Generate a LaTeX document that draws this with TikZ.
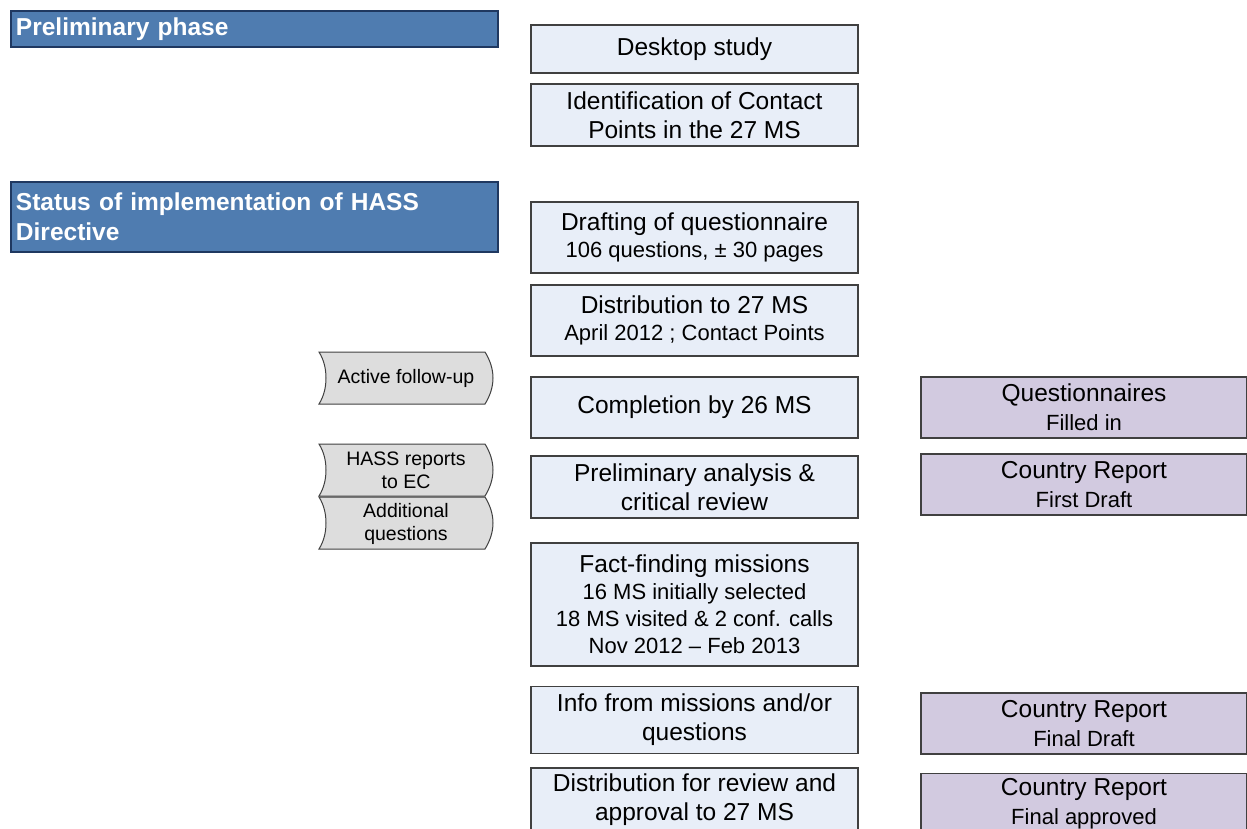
\documentclass[tikz,border=0pt]{standalone}
\usepackage{fontspec}
\setmainfont{Liberation Sans}
\definecolor{hdrfill}{RGB}{79,124,176}
\definecolor{hdrline}{RGB}{31,56,96}
\definecolor{bluefill}{RGB}{232,238,248}
\definecolor{purplefill}{RGB}{210,202,224}
\definecolor{tagfill}{RGB}{221,221,221}
\definecolor{boxline}{RGB}{64,64,64}
\newcommand\mainf{\fontsize{24.5}{29}\selectfont}
\newcommand\smf{\fontsize{22}{27}\selectfont}
\newcommand\tagf{\fontsize{19.5}{23}\selectfont}
\tikzset{
  hdr/.style={draw=hdrline, line width=2pt, fill=hdrfill, text=white,
    font=\fontsize{24.5}{30}\selectfont\bfseries, align=left, anchor=north west,
    text width=477pt, inner xsep=5pt, inner ysep=0pt, minimum width=487pt},
  stepbox/.style={draw=boxline, line width=1.1pt, fill=bluefill, font=\mainf,
    align=center, minimum width=327pt, inner sep=0pt},
  resultbox/.style={draw=boxline, line width=1.1pt, fill=purplefill, font=\mainf,
    align=center, minimum width=326pt, inner sep=0pt},
  tagline/.style={draw=boxline, line width=1pt, fill=tagfill},
  tagtext/.style={font=\tagf, align=center, inner sep=0pt},
}
\newcommand\tagshape[3]{%
  \begin{scope}[shift={(319,#2)}]
    \draw[tagline] (0,0) -- (166,0) .. controls (171,8) and (174,17) .. (174,26)
      .. controls (174,35) and (171,44) .. (166,52) -- (0,52)
      .. controls (5,44) and (7,35) .. (7,26) .. controls (7,17) and (5,8) .. (0,0) -- cycle;
    \node[tagtext] (#1) at (87,26.5) {#3};
  \end{scope}}
\begin{document}
\begin{tikzpicture}[x=1pt,y=-1pt]
\useasboundingbox (0,0) rectangle (1247,829);
\clip (0,0) rectangle (1247,829);

% headers
\node[hdr, minimum height=36pt] (h1) at (10,10) {Preliminary phase};
\node[hdr, minimum height=70pt] (h2) at (10,181) {Status of implementation of HASS\\Directive};

% process steps
\node[stepbox, minimum height=48pt] (desk) at (694.5,49) {Desktop study};
\node[stepbox, minimum height=62pt] (ident) at (694.5,115) {Identification of Contact\\Points in the 27 MS};
\node[stepbox, minimum height=71pt, font=\smf] (draft) at (694.5,237.5) {{\mainf Drafting of questionnaire}\\106 questions, ± 30 pages};
\node[stepbox, minimum height=71pt, font=\smf] (dist) at (694.5,320.5) {{\mainf Distribution to 27 MS}\\April 2012 ; Contact Points};
\node[stepbox, minimum height=61pt] (compl) at (694.5,407.5) {Completion by 26 MS};
\node[stepbox, minimum height=62pt] (prelim) at (694.5,487) {Preliminary analysis \&\\critical review};
\node[stepbox, minimum height=123pt, font=\smf] (fact) at (694.5,604.5) {{\mainf Fact-finding missions}\\16 MS initially selected\\18 MS visited \& 2 conf. calls\\Nov 2012 -- Feb 2013};
\node[stepbox, minimum height=67pt] (info) at (694.5,720) {Info from missions and/or\\questions};
\node[stepbox, minimum height=64pt] (review) at (694.5,800) {Distribution for review and\\approval to 27 MS};

% results
\node[resultbox, minimum height=61pt, font=\smf] (quest) at (1084,407.5) {{\mainf Questionnaires}\\[2pt]Filled in};
\node[resultbox, minimum height=61pt, font=\smf] (cr1) at (1084,484.5) {{\mainf Country Report}\\[2pt]First Draft};
\node[resultbox, minimum height=61pt, font=\smf] (cr2) at (1084,723.5) {{\mainf Country Report}\\[2pt]Final Draft};
\node[resultbox, minimum height=61pt, font=\smf] (cr3) at (1084,804) {{\mainf Country Report}\\[2pt]Final approved};

% side tags
\tagshape{follow}{352}{Active follow-up}
\tagshape{hass}{444}{HASS reports\\to EC}
\tagshape{addq}{497}{Additional\\questions}
\end{tikzpicture}
\end{document}
